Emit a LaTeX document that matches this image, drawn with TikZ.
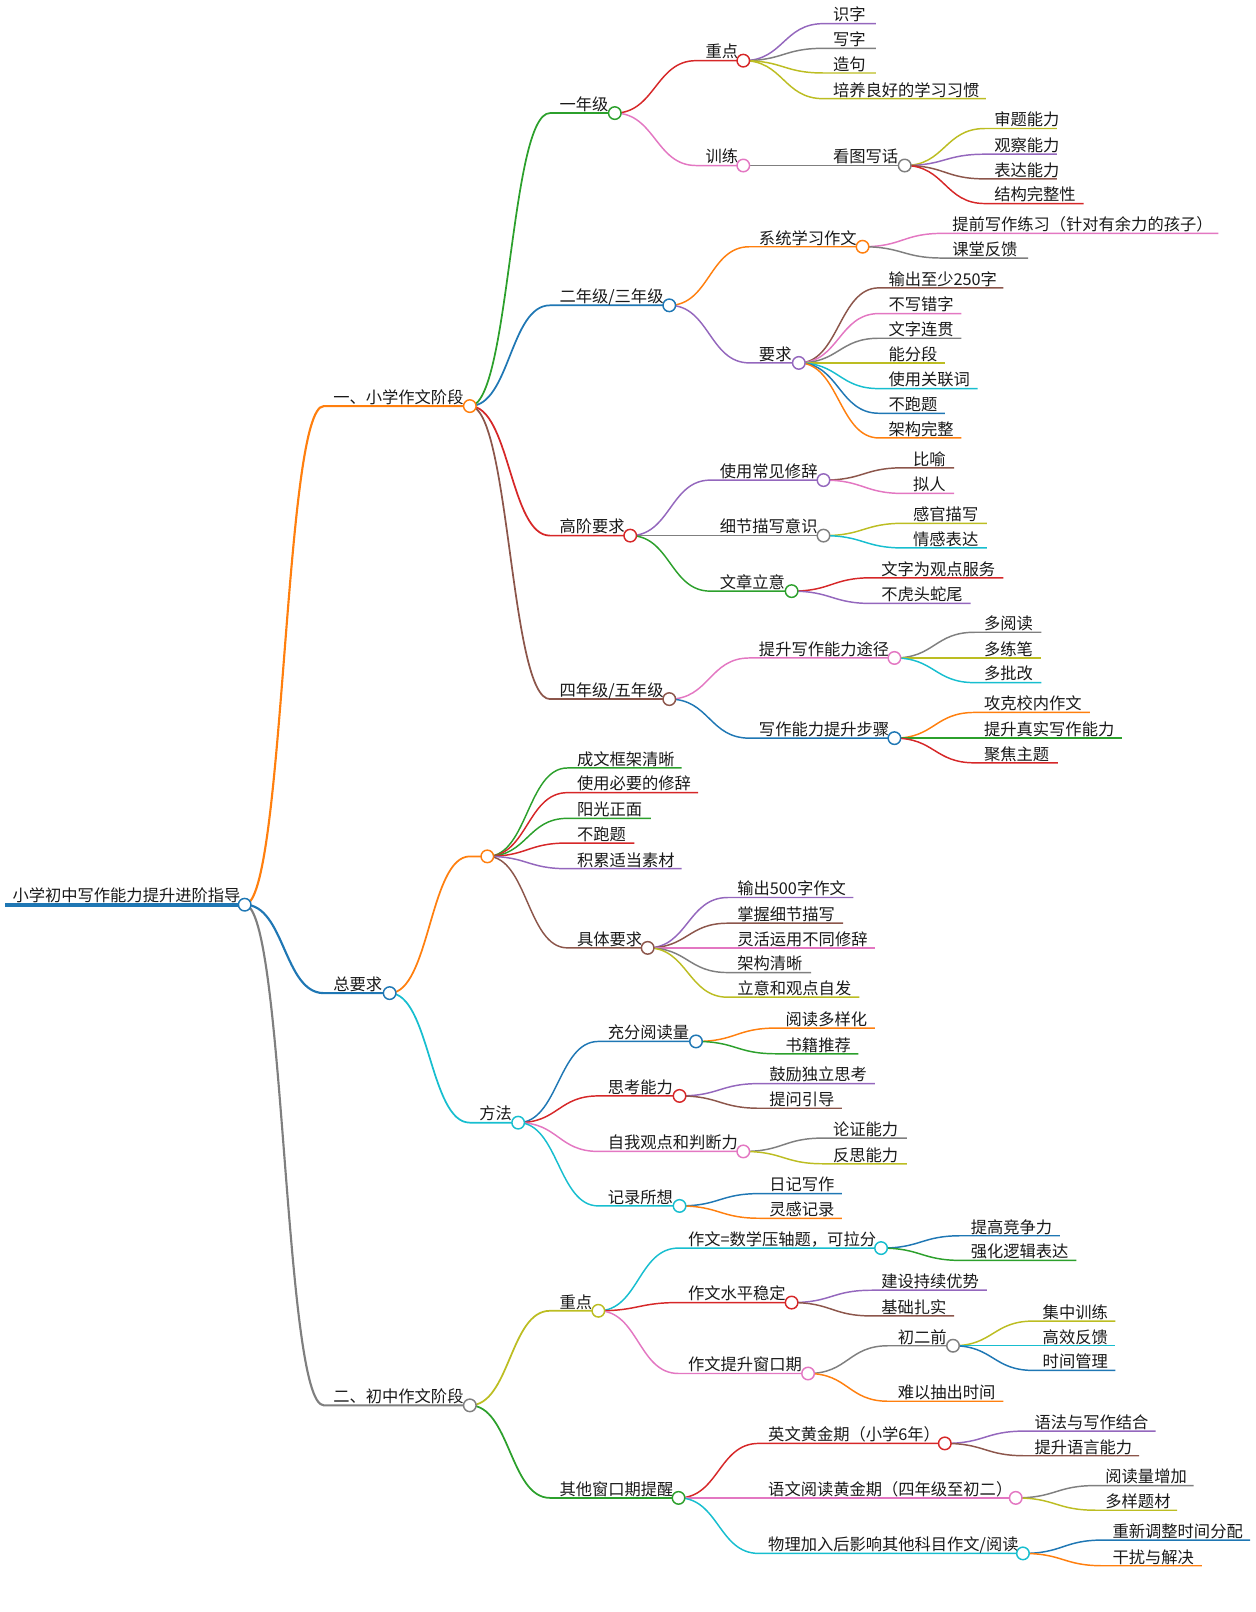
\documentclass[tikz,border=0pt]{standalone}
\usepackage{fontspec}
\setmainfont{Noto Sans CJK SC}
\usetikzlibrary{calc}
\pgfdeclarelayer{bg}
\pgfsetlayers{bg,main}
\definecolor{cB}{HTML}{1F77B4}
\definecolor{cO}{HTML}{FF7F0E}
\definecolor{cGr}{HTML}{2CA02C}
\definecolor{cR}{HTML}{D62728}
\definecolor{cP}{HTML}{9467BD}
\definecolor{cBr}{HTML}{8C564B}
\definecolor{cPk}{HTML}{E377C2}
\definecolor{cG}{HTML}{7F7F7F}
\definecolor{cOl}{HTML}{BCBD22}
\definecolor{cC}{HTML}{17BECF}
\tikzset{
  lbl/.style={anchor=base west, inner sep=0pt, font=\fontsize{12.2}{12.2}\selectfont, text=black!90},
  dotc/.style={fill=white, line width=1.1pt},
  dA/.style={line width=1.6pt},
  dB/.style={line width=1.3pt},
  dC/.style={line width=1.1pt},
}
% name, parent, x0, x1, y, style, text
\newcommand{\mmleaf}[7]{%
  \coordinate (#1s) at (#3,#5);
  \coordinate (#1) at (#4,#5);
  \begin{pgfonlayer}{bg}
    \draw[#6] (#2) .. controls ($(#2)+(39,0)$) and ($(#1s)+(-39,0)$) .. (#1s) -- (#1);
  \end{pgfonlayer}
  \node[lbl] (#1t) at ($(#1s)+(9,-2.6)$) {#7};
}
\newcommand{\mmbranch}[7]{%
  \mmleaf{#1}{#2}{#3}{#4}{#5}{#6}{#7}
  \draw[#6,dotc] (#1) circle[radius=4.7pt];
}
\begin{document}
\begin{tikzpicture}[x=0.7709pt,y=-0.7709pt]
\useasboundingbox (0,0) rectangle (1221,1568);
% root
\coordinate (roots) at (5,880);
\coordinate (root) at (238,880);
\begin{pgfonlayer}{bg}
\draw[cB,line width=2.7pt] (roots) -- (root);
\end{pgfonlayer}
\node[lbl] (roott) at (12,877) {小学初中写作能力提升进阶指导};
\draw[cB,dotc] (root) circle[radius=4.7pt];

% ===== 一、小学作文阶段
\mmbranch{A}{root}{315}{457}{395}{cO,dA}{一、小学作文阶段}
\mmbranch{A1}{A}{535}{598}{110}{cGr,dB}{一年级}
\mmbranch{A11}{A1}{677}{723}{59}{cR,dC}{重点}
\mmleaf{A111}{A11}{801}{852}{23}{cP,dC}{识字}
\mmleaf{A112}{A11}{801}{852}{47}{cG,dC}{写字}
\mmleaf{A113}{A11}{801}{852}{71}{cOl,dC}{造句}
\mmleaf{A114}{A11}{801}{959}{96}{cOl,dC}{培养良好的学习习惯}
\mmbranch{A12}{A1}{677}{723}{161}{cPk,dC}{训练}
\mmbranch{A121}{A12}{801}{880}{161}{cG,dC}{看图写话}
\mmleaf{A1211}{A121}{958}{1028}{125}{cOl,dC}{审题能力}
\mmleaf{A1212}{A121}{958}{1028}{150}{cP,dC}{观察能力}
\mmleaf{A1213}{A121}{958}{1028}{174}{cBr,dC}{表达能力}
\mmleaf{A1214}{A121}{958}{1054}{198}{cR,dC}{结构完整性}

\mmbranch{A2}{A}{535}{651}{297}{cB,dB}{二年级/三年级}
\mmbranch{A21}{A2}{729}{839}{240}{cO,dC}{系统学习作文}
\mmleaf{A211}{A21}{917}{1185}{227}{cPk,dC}{提前写作练习（针对有余力的孩子）}
\mmleaf{A212}{A21}{917}{1000}{251}{cG,dC}{课堂反馈}
\mmbranch{A22}{A2}{729}{777}{353}{cP,dC}{要求}
\mmleaf{A221}{A22}{855}{976}{280}{cBr,dC}{输出至少250字}
\mmleaf{A222}{A22}{855}{935}{305}{cPk,dC}{不写错字}
\mmleaf{A223}{A22}{855}{935}{329}{cG,dC}{文字连贯}
\mmleaf{A224}{A22}{855}{919}{353}{cOl,dC}{能分段}
\mmleaf{A225}{A22}{855}{951}{378}{cC,dC}{使用关联词}
\mmleaf{A226}{A22}{855}{919}{402}{cB,dC}{不跑题}
\mmleaf{A227}{A22}{855}{935}{426}{cO,dC}{架构完整}

\mmbranch{A3}{A}{535}{613}{521}{cR,dB}{高阶要求}
\mmbranch{A31}{A3}{691}{801}{467}{cP,dC}{使用常见修辞}
\mmleaf{A311}{A31}{879}{928}{455}{cBr,dC}{比喻}
\mmleaf{A312}{A31}{879}{928}{480}{cPk,dC}{拟人}
\mmbranch{A32}{A3}{691}{801}{521}{cG,dC}{细节描写意识}
\mmleaf{A321}{A32}{879}{960}{509}{cOl,dC}{感官描写}
\mmleaf{A322}{A32}{879}{960}{533}{cC,dC}{情感表达}
\mmbranch{A33}{A3}{691}{770}{575}{cGr,dC}{文章立意}
\mmleaf{A331}{A33}{848}{976}{562}{cR,dC}{文字为观点服务}
\mmleaf{A332}{A33}{848}{944}{587}{cP,dC}{不虎头蛇尾}

\mmbranch{A4}{A}{535}{651}{680}{cBr,dB}{四年级/五年级}
\mmbranch{A41}{A4}{729}{870}{640}{cPk,dC}{提升写作能力途径}
\mmleaf{A411}{A41}{948}{1013}{615}{cG,dC}{多阅读}
\mmleaf{A412}{A41}{948}{1013}{640}{cOl,dC}{多练笔}
\mmleaf{A413}{A41}{948}{1013}{664}{cC,dC}{多批改}
\mmbranch{A42}{A4}{729}{870}{718}{cB,dC}{写作能力提升步骤}
\mmleaf{A421}{A42}{948}{1060}{693}{cO,dC}{攻克校内作文}
\mmleaf{A422}{A42}{948}{1091}{718}{cGr,dC}{提升真实写作能力}
\mmleaf{A423}{A42}{948}{1029}{742}{cR,dC}{聚焦主题}

% ===== 总要求
\mmbranch{B}{root}{315}{379}{966}{cB,dA}{总要求}
\mmbranch{B1}{B}{457}{474}{833}{cO,dB}{}
\mmleaf{B11}{B1}{552}{663}{747}{cGr,dC}{成文框架清晰}
\mmleaf{B12}{B1}{552}{679}{771}{cR,dC}{使用必要的修辞}
\mmleaf{B13}{B1}{552}{633}{796}{cGr,dC}{阳光正面}
\mmleaf{B14}{B1}{552}{617}{820}{cR,dC}{不跑题}
\mmleaf{B15}{B1}{552}{663}{845}{cP,dC}{积累适当素材}
\mmbranch{B16}{B1}{552}{630}{922}{cBr,dC}{具体要求}
\mmleaf{B161}{B16}{708}{830}{873}{cP,dC}{输出500字作文}
\mmleaf{B162}{B16}{708}{820}{898}{cBr,dC}{掌握细节描写}
\mmleaf{B163}{B16}{708}{851}{922}{cPk,dC}{灵活运用不同修辞}
\mmleaf{B164}{B16}{708}{789}{946}{cG,dC}{架构清晰}
\mmleaf{B165}{B16}{708}{836}{970}{cOl,dC}{立意和观点自发}

\mmbranch{B2}{B}{457}{504}{1092}{cC,dB}{方法}
\mmbranch{B21}{B2}{582}{677}{1013}{cB,dC}{充分阅读量}
\mmleaf{B211}{B21}{755}{851}{1000}{cO,dC}{阅读多样化}
\mmleaf{B212}{B21}{755}{835}{1025}{cGr,dC}{书籍推荐}
\mmbranch{B22}{B2}{582}{661}{1066}{cR,dC}{思考能力}
\mmleaf{B221}{B22}{739}{851}{1054}{cP,dC}{鼓励独立思考}
\mmleaf{B222}{B22}{739}{819}{1078}{cBr,dC}{提问引导}
\mmbranch{B23}{B2}{582}{723}{1120}{cPk,dC}{自我观点和判断力}
\mmleaf{B231}{B23}{801}{882}{1107}{cG,dC}{论证能力}
\mmleaf{B232}{B23}{801}{882}{1132}{cOl,dC}{反思能力}
\mmbranch{B24}{B2}{582}{661}{1173}{cC,dC}{记录所想}
\mmleaf{B241}{B24}{739}{819}{1161}{cB,dC}{日记写作}
\mmleaf{B242}{B24}{739}{819}{1185}{cO,dC}{灵感记录}

% ===== 二、初中作文阶段
\mmbranch{C}{root}{315}{457}{1367}{cG,dA}{二、初中作文阶段}
\mmbranch{C1}{C}{535}{582}{1275}{cOl,dB}{重点}
\mmbranch{C11}{C1}{660}{857}{1214}{cC,dC}{作文=数学压轴题，可拉分}
\mmleaf{C111}{C11}{935}{1031}{1202}{cB,dC}{提高竞争力}
\mmleaf{C112}{C11}{935}{1047}{1226}{cGr,dC}{强化逻辑表达}
\mmbranch{C12}{C1}{660}{770}{1267}{cR,dC}{作文水平稳定}
\mmleaf{C121}{C12}{848}{960}{1255}{cP,dC}{建设持续优势}
\mmleaf{C122}{C12}{848}{928}{1280}{cBr,dC}{基础扎实}
\mmbranch{C13}{C1}{660}{786}{1336}{cPk,dC}{作文提升窗口期}
\mmbranch{C131}{C13}{864}{927}{1309}{cG,dC}{初二前}
\mmleaf{C1311}{C131}{1005}{1085}{1285}{cOl,dC}{集中训练}
\mmleaf{C1312}{C131}{1005}{1085}{1309}{cC,dC}{高效反馈}
\mmleaf{C1313}{C131}{1005}{1085}{1333}{cB,dC}{时间管理}
\mmleaf{C132}{C13}{864}{976}{1363}{cO,dC}{难以抽出时间}

\mmbranch{C2}{C}{535}{660}{1457}{cGr,dB}{其他窗口期提醒}
\mmbranch{C21}{C2}{738}{919}{1404}{cR,dC}{英文黄金期（小学6年）}
\mmleaf{C211}{C21}{997}{1124}{1392}{cP,dC}{语法与写作结合}
\mmleaf{C212}{C21}{997}{1108}{1416}{cBr,dC}{提升语言能力}
\mmbranch{C22}{C2}{738}{988}{1457}{cPk,dC}{语文阅读黄金期（四年级至初二）}
\mmleaf{C221}{C22}{1066}{1161}{1445}{cG,dC}{阅读量增加}
\mmleaf{C222}{C22}{1066}{1145}{1469}{cOl,dC}{多样题材}
\mmbranch{C23}{C2}{738}{995}{1511}{cC,dC}{物理加入后影响其他科目作文/阅读}
\mmleaf{C231}{C23}{1073}{1216}{1498}{cB,dC}{重新调整时间分配}
\mmleaf{C232}{C23}{1073}{1169}{1523}{cO,dC}{干扰与解决}
\end{tikzpicture}
\end{document}
